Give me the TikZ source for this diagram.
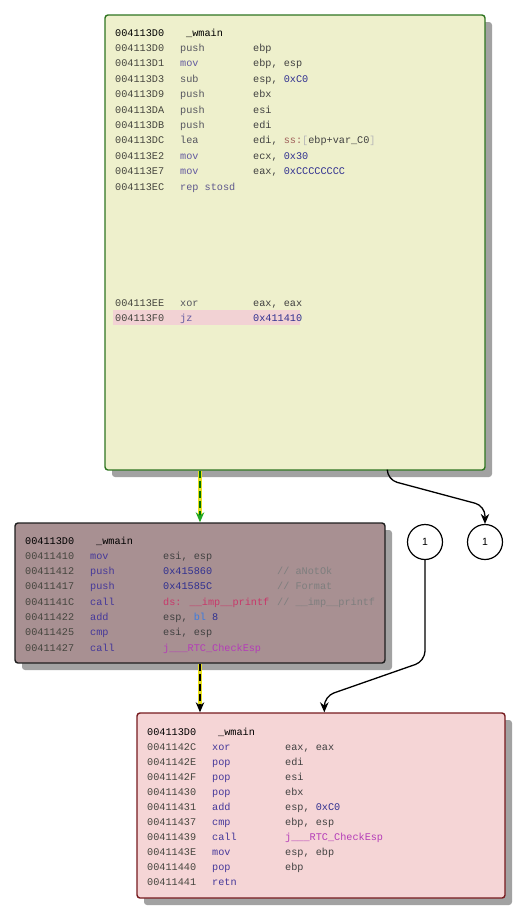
\documentclass[tikz,border=0pt]{standalone}
\usepackage{fontspec}
\setsansfont{Liberation Sans}
\newfontfamily\asmfont{Liberation Mono}
\usetikzlibrary{shadows,arrows.meta,calc}
\definecolor{topfill}{HTML}{EEF0CC}
\definecolor{topdraw}{HTML}{2E7420}
\definecolor{midfill}{HTML}{A89092}
\definecolor{middraw}{HTML}{1E1E1E}
\definecolor{botfill}{HTML}{F5D5D6}
\definecolor{botdraw}{HTML}{761A1E}
\definecolor{shadowc}{HTML}{A2A2A2}
\definecolor{hilite}{HTML}{F2D2D4}
\definecolor{addrc}{HTML}{45453E}
\definecolor{mngray}{HTML}{55555F}
\definecolor{mnmov}{HTML}{6259A0}
\definecolor{mnpur}{HTML}{45389A}
\definecolor{regc}{HTML}{404040}
\definecolor{numc}{HTML}{303090}
\definecolor{segc}{HTML}{A0605A}
\definecolor{brc}{HTML}{B8B8B8}
\definecolor{impc}{HTML}{C8386A}
\definecolor{rtcc}{HTML}{B43CB8}
\definecolor{cmtc}{HTML}{7E7E7E}
\definecolor{blc}{HTML}{3C7CE0}
\definecolor{yelc}{HTML}{E8E020}
\definecolor{grnc}{HTML}{22A822}
\newcommand\asmln[3]{\makebox[65pt][l]{\textcolor{addrc}{#1}}\makebox[73pt][l]{#2}#3}
\newcommand\asmhd[1]{\makebox[71pt][l]{#1}\_wmain}
\newcommand\asMn[1]{\textcolor{mngray}{#1}}
\newcommand\asMv[1]{\textcolor{mnmov}{#1}}
\newcommand\asMp[1]{\textcolor{mnpur}{#1}}
\newcommand\asRg[1]{\textcolor{regc}{#1}}
\newcommand\asNm[1]{\textcolor{numc}{#1}}
\newcommand\asCm[1]{\textcolor{cmtc}{#1}}
\begin{document}
\begin{tikzpicture}[x=1pt,y=-1pt,
  box/.style={rounded corners=3pt, line width=1.4pt,
    general shadow={fill=shadowc, shadow xshift=7pt, shadow yshift=-7pt}},
  topbox/.style={box, draw=topdraw, fill=topfill, minimum width=380pt, minimum height=455pt},
  midbox/.style={box, draw=middraw, fill=midfill, minimum width=370pt, minimum height=140pt},
  botbox/.style={box, draw=botdraw, fill=botfill, minimum width=368pt, minimum height=185pt},
  txt/.style={anchor=base west, inner sep=0pt, font=\asmfont\fontsize{10.2}{12}\selectfont},
  circ/.style={circle, draw, line width=1.2pt, fill=white, minimum size=35pt, inner sep=0pt,
    font=\sffamily\fontsize{10.5}{12}\selectfont},
  conn/.style={line width=1.3pt, rounded corners=10pt, -{Stealth[length=10pt,width=8.5pt]}},
  yelline/.style={line width=3.2pt, yelc, shorten >=7pt},
  dashline/.style={line width=1.3pt, dash pattern=on 7pt off 3pt}
]
\useasboundingbox (0,0) rectangle (518,922);
% boxes
\node[topbox] (top) at (295,242.5) {};
\node[midbox] (mid) at (200,593) {};
\node[botbox] (bot) at (321,805.5) {};
% highlight bar
\fill[hilite] (113,309.5) rectangle (300,325);
% top box text
\node[txt] (t0) at (115,36) {\asmhd{004113D0}};
\node[txt] (t1) at (115,51.4) {\asmln{004113D0}{\asMn{push}}{\asRg{ebp}}};
\node[txt] (t2) at (115,66.8) {\asmln{004113D1}{\asMv{mov}}{\asRg{ebp, esp}}};
\node[txt] (t3) at (115,82.2) {\asmln{004113D3}{\asMn{sub}}{\asRg{esp, }\asNm{0xC0}}};
\node[txt] (t4) at (115,97.6) {\asmln{004113D9}{\asMn{push}}{\asRg{ebx}}};
\node[txt] (t5) at (115,113) {\asmln{004113DA}{\asMn{push}}{\asRg{esi}}};
\node[txt] (t6) at (115,128.4) {\asmln{004113DB}{\asMn{push}}{\asRg{edi}}};
\node[txt] (t7) at (115,143.8) {\asmln{004113DC}{\asMn{lea}}{\asRg{edi, }\textcolor{segc}{ss:}\textcolor{brc}{[}\asRg{ebp+var\_C0}\textcolor{brc}{]}}};
\node[txt] (t8) at (115,159.2) {\asmln{004113E2}{\asMv{mov}}{\asRg{ecx, }\asNm{0x30}}};
\node[txt] (t9) at (115,174.6) {\asmln{004113E7}{\asMv{mov}}{\asRg{eax, }\asNm{0xCCCCCCCC}}};
\node[txt] (t10) at (115,190) {\asmln{004113EC}{\textcolor{mnmov!70!mngray}{rep stosd}}{}};
\node[txt] (t11) at (115,306) {\asmln{004113EE}{\asMn{xor}}{\asRg{eax, eax}}};
\node[txt] (t12) at (115,321.4) {\asmln{004113F0}{\asMv{jz}}{\asNm{0x411410}}};
% middle box text
\node[txt] (m0) at (25,544) {\asmhd{004113D0}};
\node[txt] (m1) at (25,559.3) {\asmln{00411410}{\asMp{mov}}{\asRg{esi, esp}}};
\node[txt] (m2) at (25,574.6) {\asmln{00411412}{\asMp{push}}{\makebox[114pt][l]{\asNm{0x415860}}\asCm{// aNotOk}}};
\node[txt] (m3) at (25,589.9) {\asmln{00411417}{\asMp{push}}{\makebox[114pt][l]{\asNm{0x41585C}}\asCm{// Format}}};
\node[txt] (m4) at (25,605.2) {\asmln{0041141C}{\asMp{call}}{\makebox[114pt][l]{\textcolor{impc}{ds: \_\_imp\_\_printf}}\asCm{// \_\_imp\_\_printf}}};
\node[txt] (m5) at (25,620.5) {\asmln{00411422}{\asMp{add}}{\asRg{esp, }\textcolor{blc}{bl} \asNm{8}}};
\node[txt] (m6) at (25,635.8) {\asmln{00411425}{\asMp{cmp}}{\asRg{esi, esp}}};
\node[txt] (m7) at (25,651.1) {\asmln{00411427}{\asMp{call}}{\textcolor{rtcc}{j\_\_\_RTC\_CheckEsp}}};
% bottom box text
\node[txt] (b0) at (147,735) {\asmhd{004113D0}};
\node[txt] (b1) at (147,750) {\asmln{0041142C}{\asMp{xor}}{\asRg{eax, eax}}};
\node[txt] (b2) at (147,765) {\asmln{0041142E}{\asMp{pop}}{\asRg{edi}}};
\node[txt] (b3) at (147,780) {\asmln{0041142F}{\asMp{pop}}{\asRg{esi}}};
\node[txt] (b4) at (147,795) {\asmln{00411430}{\asMp{pop}}{\asRg{ebx}}};
\node[txt] (b5) at (147,810) {\asmln{00411431}{\asMp{add}}{\asRg{esp, }\asNm{0xC0}}};
\node[txt] (b6) at (147,825) {\asmln{00411437}{\asMp{cmp}}{\asRg{ebp, esp}}};
\node[txt] (b7) at (147,840) {\asmln{00411439}{\asMp{call}}{\textcolor{rtcc}{j\_\_\_RTC\_CheckEsp}}};
\node[txt] (b8) at (147,855) {\asmln{0041143E}{\asMp{mov}}{\asRg{esp, ebp}}};
\node[txt] (b9) at (147,870) {\asmln{00411440}{\asMp{pop}}{\asRg{ebp}}};
\node[txt] (b10) at (147,885) {\asmln{00411441}{\asMp{retn}}{}};
% circles
\node[circ] (c1) at (425,542) {1};
\node[circ] (c2) at (485,542) {1};
% connectors
\draw[yelline] (top.south -| mid.north) -- (mid.north);
\draw[dashline, draw=green!45!black, -{Stealth[length=10pt,width=8.5pt,fill=grnc,color=grnc]}] (top.south -| mid.north) -- (mid.north);
\draw[yelline] (mid.south) -- (mid.south |- bot.north);
\draw[dashline, draw=black, -{Stealth[length=10pt,width=8.5pt]}] (mid.south) -- (mid.south |- bot.north);
\draw[conn] ($(top.south west)+(283,0)$) -- ++(0,9) -- ($(c2.north)+(0,-18)$) -- (c2.north);
\draw[conn] (c1.south) -- ++(0,101) -- ($(bot.north west)+(188,-16)$) -- ($(bot.north west)+(188,0)$);
\end{tikzpicture}
\end{document}
